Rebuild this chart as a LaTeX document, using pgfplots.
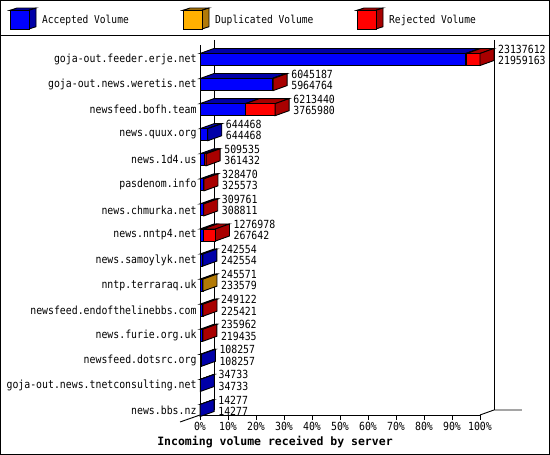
\documentclass[border=0pt]{standalone}
\usepackage{fontspec}
\setmainfont[FakeStretch=0.88]{DejaVu Sans Mono}
\newfontfamily\titlefont{DejaVu Sans Mono}
\usepackage{pgfplots}
\usepackage{pgfplotstable}
\pgfplotsset{compat=1.18}

\definecolor{accF}{RGB}{0,0,255}
\definecolor{accD}{RGB}{0,0,168}
\definecolor{dupF}{RGB}{255,176,0}
\definecolor{dupD}{RGB}{178,122,8}
\definecolor{rejF}{RGB}{255,0,0}
\definecolor{rejD}{RGB}{168,0,0}

% incoming volume per server (total, accepted, duplicated, rejected)
\pgfplotstableread{
total    acc      dup   rej
23137612 21959163 82000 1096449
6045187  5964764  0     80423
6213440  3765980  0     2447460
644468   644468   0     0
509535   361432   0     148103
328470   325573   0     2897
309761   308811   0     950
1276978  267642   0     1009336
242554   242554   0     0
245571   233579   11992 0
249122   225421   0     23701
235962   219435   0     16527
108257   108257   0     0
34733    34733    0     0
14277    14277    0     0
}\servers
\def\vmax{23137612}

\pgfplotsset{
  vallabel/.style={draw=none, mark=none,
    point meta=explicit symbolic,
    nodes near coords,
    nodes near coords align={horizontal},
    every node near coord/.style={anchor=west, inner sep=0pt,
      xshift=4pt, font=\fontsize{11.2}{12}\selectfont}},
}

\begin{document}
\begin{tikzpicture}[x=1pt,y=1pt]
\useasboundingbox (0,0) rectangle (550,-455);
\draw[line width=1pt] (0.5,-0.5) rectangle (549.5,-454.5);
\draw[line width=1pt] (0,-35) -- (550,-35);

% legend
\foreach \lx/\cf/\cd/\txt in {10/accF/accD/Accepted Volume,183/dupF/dupD/Duplicated Volume,357/rejF/rejD/Rejected Volume}{
  \filldraw[fill=\cd, line width=0.9pt] (\lx,-10.3) -- (\lx+19,-10.3) -- (\lx+26,-8) -- (\lx+7,-8) -- cycle;
  \filldraw[fill=\cd, line width=0.9pt] (\lx+19,-10.3) -- (\lx+26,-8) -- (\lx+26,-26.7) -- (\lx+19,-29) -- cycle;
  \filldraw[fill=\cf, line width=0.9pt] (\lx,-10.3) rectangle (\lx+19,-29);
  \node[anchor=west, inner sep=0pt, font=\fontsize{10.9}{12}\selectfont] at (\lx+32,-20) {\txt};
}

\begin{axis}[
  at={(200pt,-59.5pt)}, anchor=origin,
  x=2.8pt, y=25.07pt,
  xmin=0, xmax=100, ymin=-14.18, ymax=0.8,
  clip=false,
  axis x line*=bottom, axis y line*=left,
  y axis line style={draw=none},
  x axis line style={line width=0.9pt},
  xtick={0,10,...,100},
  xticklabel={\pgfmathprintnumber{\tick}\%},
  ytick={-14,-13,...,0},
  yticklabels={news.bbs.nz,goja-out.news.tnetconsulting.net,newsfeed.dotsrc.org,
    news.furie.org.uk,newsfeed.endofthelinebbs.com,nntp.terraraq.uk,news.samoylyk.net,
    news.nntp4.net,news.chmurka.net,pasdenom.info,news.1d4.us,news.quux.org,
    newsfeed.bofh.team,goja-out.news.weretis.net,goja-out.feeder.erje.net},
  yticklabel style={xshift=5pt},
  xticklabel style={yshift=1pt},
  tick align=outside,
  major tick length=5pt,
  xtick style={line width=0.9pt, black},
  ytick style={draw=none},
  tick label style={font=\fontsize{11.2}{12}\selectfont},
  /pgf/number format/assume math mode=true,
]
% wall and floor
\addplot[black, line width=0.9pt] coordinates {(0,0.578) (0,-14.18)};
\addplot[black, line width=0.9pt] coordinates {(5,0.778) (5,-13.98)};
\addplot[black, line width=0.9pt] coordinates {(105,0.778) (105,-13.98)};
\addplot[black, line width=0.9pt] coordinates {(-7.14,-14.46) (0,-14.18)};
\addplot[black, line width=0.9pt] coordinates {(100,-14.18) (105,-13.98) (115,-13.98)};

% 3D bars
\pgfplotsinvokeforeach{0,...,14}{
  \pgfplotstablegetelem{#1}{acc}\of\servers \edef\vacc{\pgfplotsretval}
  \pgfplotstablegetelem{#1}{dup}\of\servers \edef\vdup{\pgfplotsretval}
  \pgfplotstablegetelem{#1}{rej}\of\servers \edef\vrej{\pgfplotsretval}
  \edef\xa{\fpeval{\vacc/\vmax*100}}
  \edef\xb{\fpeval{(\vacc+\vdup)/\vmax*100}}
  \edef\xc{\fpeval{(\vacc+\vdup+\vrej)/\vmax*100}}
  \edef\xad{\fpeval{\xa+5}}
  \edef\xbd{\fpeval{\xb+5}}
  \edef\xcd{\fpeval{\xc+5}}
  \edef\ft{\fpeval{0.24-#1}}
  \edef\fb{\fpeval{-0.24-#1}}
  \edef\bt{\fpeval{0.44-#1}}
  \edef\bb{\fpeval{-0.04-#1}}
  \addplot[draw=black, line width=0.9pt, fill=accD] coordinates {(0,\ft) (\xa,\ft) (\xad,\bt) (5,\bt)} -- cycle;
  \addplot[draw=black, line width=0.9pt, fill=dupD] coordinates {(\xa,\ft) (\xb,\ft) (\xbd,\bt) (\xad,\bt)} -- cycle;
  \addplot[draw=black, line width=0.9pt, fill=rejD] coordinates {(\xb,\ft) (\xc,\ft) (\xcd,\bt) (\xbd,\bt)} -- cycle;
  \addplot[draw=black, line width=0.9pt, fill=accF] coordinates {(0,\fb) (\xa,\fb) (\xa,\ft) (0,\ft)} -- cycle;
  \addplot[draw=black, line width=0.9pt, fill=dupF] coordinates {(\xa,\fb) (\xb,\fb) (\xb,\ft) (\xa,\ft)} -- cycle;
  \addplot[draw=black, line width=0.9pt, fill=rejF] coordinates {(\xb,\fb) (\xc,\fb) (\xc,\ft) (\xb,\ft)} -- cycle;
  \ifnum\vrej>0
    \addplot[draw=black, line width=0.9pt, fill=rejD] coordinates {(\xc,\fb) (\xcd,\bb) (\xcd,\bt) (\xc,\ft)} -- cycle;
  \else\ifnum\vdup>0
    \addplot[draw=black, line width=0.9pt, fill=dupD] coordinates {(\xc,\fb) (\xcd,\bb) (\xcd,\bt) (\xc,\ft)} -- cycle;
  \else
    \addplot[draw=black, line width=0.9pt, fill=accD] coordinates {(\xc,\fb) (\xcd,\bb) (\xcd,\bt) (\xc,\ft)} -- cycle;
  \fi\fi
}

% value labels: total (upper) and accepted (lower)
\addplot[vallabel] table[x expr=\thisrow{total}/23137612*100+5, y expr=-\coordindex+0.42, meta=total] {\servers};
\addplot[vallabel] table[x expr=\thisrow{total}/23137612*100+5, y expr=-\coordindex-0.03, meta=acc] {\servers};
\end{axis}

\node[font=\titlefont\fontsize{11.5}{13}\selectfont\bfseries] at (275,-442) {Incoming volume received by server};
\end{tikzpicture}
\end{document}
